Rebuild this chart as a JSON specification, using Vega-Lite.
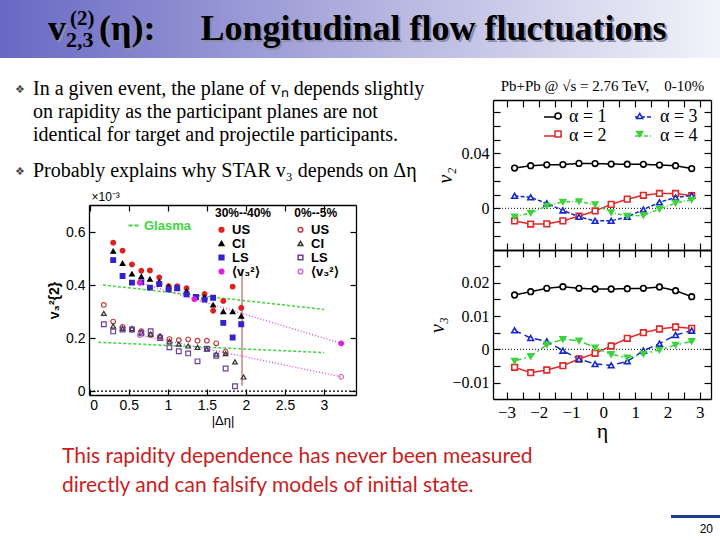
{
  "$schema": "https://vega.github.io/schema/vega-lite/v6.json",
  "width": 720,
  "height": 540,
  "autosize": {"type": "none"},
  "padding": 0,
  "background": "white",
  "config": {
    "view": {"stroke": null},
    "axis": {"grid": false, "domain": true, "domainColor": "black", "domainWidth": 1.3, "tickColor": "black", "labelColor": "black", "titleColor": "black", "tickWidth": 1.2},
    "legend": {"labelColor": "black", "titleColor": "black"}
  },
  "datasets": {
    "header": [
      {"p": "v", "t": "v"},
      {"p": "sub", "t": "2,3"},
      {"p": "sup", "t": "(2)"},
      {"p": "rest", "t": "(η):\u00a0\u00a0\u00a0\u00a0\u00a0Longitudinal flow fluctuations"}
    ],
    "bullets": [
      {"b": 1, "t": "In a given event, the plane of vₙ depends slightly\non rapidity as the participant planes are not\nidentical for target and projectile participants."},
      {"b": 2, "t": "Probably explains why STAR v₃ depends on Δη"}
    ],
    "footer": [
      {"t": "This rapidity dependence has never been measured\ndirectly and can falsify models of initial state."}
    ],
    "glasma": [
      {"m": "Glasma", "g": "30-40", "x": 0.17, "y": 0.40},
      {"m": "Glasma", "g": "30-40", "x": 3.0, "y": 0.308},
      {"m": "Glasma", "g": "0-5", "x": 0.11, "y": 0.184},
      {"m": "Glasma", "g": "0-5", "x": 3.0, "y": 0.145}
    ],
    "err": [
      {"x": 1.95, "lo": 0.02, "hi": 0.46}
    ],
    "star": [
      {"s": "US 30-40", "x": 0.30, "y": 0.56},
      {"s": "US 30-40", "x": 0.42, "y": 0.53},
      {"s": "US 30-40", "x": 0.54, "y": 0.478},
      {"s": "US 30-40", "x": 0.66, "y": 0.454},
      {"s": "US 30-40", "x": 0.77, "y": 0.455},
      {"s": "US 30-40", "x": 0.89, "y": 0.429},
      {"s": "US 30-40", "x": 1.01, "y": 0.396},
      {"s": "US 30-40", "x": 1.12, "y": 0.396},
      {"s": "US 30-40", "x": 1.24, "y": 0.388},
      {"s": "US 30-40", "x": 1.47, "y": 0.366},
      {"s": "US 30-40", "x": 1.58, "y": 0.303},
      {"s": "US 30-40", "x": 1.71, "y": 0.34},
      {"s": "US 30-40", "x": 1.83, "y": 0.394},
      {"s": "US 30-40", "x": 1.94, "y": 0.314},
      {"s": "CI 30-40", "x": 0.30, "y": 0.528},
      {"s": "CI 30-40", "x": 0.42, "y": 0.482},
      {"s": "CI 30-40", "x": 0.54, "y": 0.442},
      {"s": "CI 30-40", "x": 0.66, "y": 0.432},
      {"s": "CI 30-40", "x": 0.77, "y": 0.422},
      {"s": "CI 30-40", "x": 0.89, "y": 0.413},
      {"s": "CI 30-40", "x": 1.01, "y": 0.394},
      {"s": "CI 30-40", "x": 1.12, "y": 0.388},
      {"s": "CI 30-40", "x": 1.24, "y": 0.377},
      {"s": "CI 30-40", "x": 1.47, "y": 0.355},
      {"s": "CI 30-40", "x": 1.58, "y": 0.325},
      {"s": "CI 30-40", "x": 1.71, "y": 0.30},
      {"s": "CI 30-40", "x": 1.83, "y": 0.30},
      {"s": "CI 30-40", "x": 1.94, "y": 0.283},
      {"s": "LS 30-40", "x": 0.30, "y": 0.494},
      {"s": "LS 30-40", "x": 0.42, "y": 0.434},
      {"s": "LS 30-40", "x": 0.54, "y": 0.409},
      {"s": "LS 30-40", "x": 0.66, "y": 0.41},
      {"s": "LS 30-40", "x": 0.77, "y": 0.39},
      {"s": "LS 30-40", "x": 0.89, "y": 0.404},
      {"s": "LS 30-40", "x": 1.01, "y": 0.384},
      {"s": "LS 30-40", "x": 1.12, "y": 0.388},
      {"s": "LS 30-40", "x": 1.24, "y": 0.365},
      {"s": "LS 30-40", "x": 1.36, "y": 0.355},
      {"s": "LS 30-40", "x": 1.47, "y": 0.345},
      {"s": "LS 30-40", "x": 1.58, "y": 0.352},
      {"s": "LS 30-40", "x": 1.71, "y": 0.257},
      {"s": "LS 30-40", "x": 1.83, "y": 0.202},
      {"s": "LS 30-40", "x": 1.94, "y": 0.252},
      {"s": "v3 30-40", "x": 0.64, "y": 0.409},
      {"s": "v3 30-40", "x": 1.34, "y": 0.347},
      {"s": "v3 30-40", "x": 3.22, "y": 0.18},
      {"s": "US 0-5", "x": 0.18, "y": 0.325},
      {"s": "US 0-5", "x": 0.30, "y": 0.262},
      {"s": "US 0-5", "x": 0.42, "y": 0.242},
      {"s": "US 0-5", "x": 0.54, "y": 0.232},
      {"s": "US 0-5", "x": 0.66, "y": 0.226},
      {"s": "US 0-5", "x": 0.78, "y": 0.212},
      {"s": "US 0-5", "x": 0.90, "y": 0.205},
      {"s": "US 0-5", "x": 1.02, "y": 0.196},
      {"s": "US 0-5", "x": 1.14, "y": 0.192},
      {"s": "US 0-5", "x": 1.26, "y": 0.195},
      {"s": "US 0-5", "x": 1.38, "y": 0.19},
      {"s": "US 0-5", "x": 1.50, "y": 0.19},
      {"s": "US 0-5", "x": 1.62, "y": 0.18},
      {"s": "US 0-5", "x": 1.74, "y": 0.148},
      {"s": "CI 0-5", "x": 0.18, "y": 0.293},
      {"s": "CI 0-5", "x": 0.30, "y": 0.245},
      {"s": "CI 0-5", "x": 0.42, "y": 0.236},
      {"s": "CI 0-5", "x": 0.54, "y": 0.236},
      {"s": "CI 0-5", "x": 0.66, "y": 0.222},
      {"s": "CI 0-5", "x": 0.78, "y": 0.215},
      {"s": "CI 0-5", "x": 0.90, "y": 0.208},
      {"s": "CI 0-5", "x": 1.02, "y": 0.188},
      {"s": "CI 0-5", "x": 1.14, "y": 0.177},
      {"s": "CI 0-5", "x": 1.26, "y": 0.17},
      {"s": "CI 0-5", "x": 1.38, "y": 0.165},
      {"s": "CI 0-5", "x": 1.50, "y": 0.158},
      {"s": "CI 0-5", "x": 1.62, "y": 0.139},
      {"s": "CI 0-5", "x": 1.74, "y": 0.141},
      {"s": "CI 0-5", "x": 1.86, "y": 0.11},
      {"s": "CI 0-5", "x": 1.97, "y": 0.053},
      {"s": "LS 0-5", "x": 0.18, "y": 0.252},
      {"s": "LS 0-5", "x": 0.30, "y": 0.225},
      {"s": "LS 0-5", "x": 0.42, "y": 0.232},
      {"s": "LS 0-5", "x": 0.54, "y": 0.232},
      {"s": "LS 0-5", "x": 0.66, "y": 0.218},
      {"s": "LS 0-5", "x": 0.78, "y": 0.226},
      {"s": "LS 0-5", "x": 0.90, "y": 0.2},
      {"s": "LS 0-5", "x": 1.02, "y": 0.165},
      {"s": "LS 0-5", "x": 1.14, "y": 0.15},
      {"s": "LS 0-5", "x": 1.26, "y": 0.142},
      {"s": "LS 0-5", "x": 1.38, "y": 0.112},
      {"s": "LS 0-5", "x": 1.50, "y": 0.16},
      {"s": "LS 0-5", "x": 1.62, "y": 0.133},
      {"s": "LS 0-5", "x": 1.74, "y": 0.085},
      {"s": "LS 0-5", "x": 1.86, "y": 0.018},
      {"s": "v3 0-5", "x": 0.64, "y": 0.211},
      {"s": "v3 0-5", "x": 3.22, "y": 0.054}
    ],
    "flow": [
      {"a": "α = 1", "eta": -2.75, "v2": 0.0293, "v3": 0.0163},
      {"a": "α = 1", "eta": -2.25, "v2": 0.0310, "v3": 0.0173},
      {"a": "α = 1", "eta": -1.75, "v2": 0.0317, "v3": 0.0183},
      {"a": "α = 1", "eta": -1.25, "v2": 0.0318, "v3": 0.0188},
      {"a": "α = 1", "eta": -0.75, "v2": 0.0327, "v3": 0.0183},
      {"a": "α = 1", "eta": -0.25, "v2": 0.0326, "v3": 0.0181},
      {"a": "α = 1", "eta": 0.25, "v2": 0.0322, "v3": 0.0181},
      {"a": "α = 1", "eta": 0.75, "v2": 0.0321, "v3": 0.0182},
      {"a": "α = 1", "eta": 1.25, "v2": 0.0320, "v3": 0.0183},
      {"a": "α = 1", "eta": 1.75, "v2": 0.0315, "v3": 0.0187},
      {"a": "α = 1", "eta": 2.25, "v2": 0.0310, "v3": 0.0176},
      {"a": "α = 1", "eta": 2.75, "v2": 0.0289, "v3": 0.0158},
      {"a": "α = 2", "eta": -2.75, "v2": -0.0092, "v3": -0.0054},
      {"a": "α = 2", "eta": -2.25, "v2": -0.0114, "v3": -0.0070},
      {"a": "α = 2", "eta": -1.75, "v2": -0.0113, "v3": -0.0062},
      {"a": "α = 2", "eta": -1.25, "v2": -0.0091, "v3": -0.0049},
      {"a": "α = 2", "eta": -0.75, "v2": -0.0057, "v3": -0.0029},
      {"a": "α = 2", "eta": -0.25, "v2": -0.0019, "v3": -0.0012},
      {"a": "α = 2", "eta": 0.25, "v2": 0.0029, "v3": 0.0010},
      {"a": "α = 2", "eta": 0.75, "v2": 0.0067, "v3": 0.0033},
      {"a": "α = 2", "eta": 1.25, "v2": 0.0095, "v3": 0.0050},
      {"a": "α = 2", "eta": 1.75, "v2": 0.0108, "v3": 0.0061},
      {"a": "α = 2", "eta": 2.25, "v2": 0.0108, "v3": 0.0067},
      {"a": "α = 2", "eta": 2.75, "v2": 0.0092, "v3": 0.0063},
      {"a": "α = 3", "eta": -2.75, "v2": 0.0091, "v3": 0.0057},
      {"a": "α = 3", "eta": -2.25, "v2": 0.0080, "v3": 0.0034},
      {"a": "α = 3", "eta": -1.75, "v2": 0.0036, "v3": 0.0024},
      {"a": "α = 3", "eta": -1.25, "v2": -0.0015, "v3": -0.0004},
      {"a": "α = 3", "eta": -0.75, "v2": -0.0062, "v3": -0.0029},
      {"a": "α = 3", "eta": -0.25, "v2": -0.0091, "v3": -0.0044},
      {"a": "α = 3", "eta": 0.25, "v2": -0.0091, "v3": -0.0048},
      {"a": "α = 3", "eta": 0.75, "v2": -0.0062, "v3": -0.0036},
      {"a": "α = 3", "eta": 1.25, "v2": -0.0009, "v3": -0.0004},
      {"a": "α = 3", "eta": 1.75, "v2": 0.0044, "v3": 0.0017},
      {"a": "α = 3", "eta": 2.25, "v2": 0.0079, "v3": 0.0043},
      {"a": "α = 3", "eta": 2.75, "v2": 0.0094, "v3": 0.0056},
      {"a": "α = 4", "eta": -2.75, "v2": -0.0061, "v3": -0.0035},
      {"a": "α = 4", "eta": -2.25, "v2": -0.0034, "v3": -0.0021},
      {"a": "α = 4", "eta": -1.75, "v2": 0.0017, "v3": 0.0014},
      {"a": "α = 4", "eta": -1.25, "v2": 0.0047, "v3": 0.0030},
      {"a": "α = 4", "eta": -0.75, "v2": 0.0050, "v3": 0.0026},
      {"a": "α = 4", "eta": -0.25, "v2": 0.0028, "v3": 0.0005},
      {"a": "α = 4", "eta": 0.25, "v2": -0.0030, "v3": -0.0015},
      {"a": "α = 4", "eta": 0.75, "v2": -0.0056, "v3": -0.0025},
      {"a": "α = 4", "eta": 1.25, "v2": -0.0052, "v3": -0.0014},
      {"a": "α = 4", "eta": 1.75, "v2": -0.0005, "v3": -0.0002},
      {"a": "α = 4", "eta": 2.25, "v2": 0.0038, "v3": 0.0013},
      {"a": "α = 4", "eta": 2.75, "v2": 0.0063, "v3": 0.0024}
    ]
  },
  "layer": [
    {
      "data": {"name": "header"},
      "layer": [
        {
          "transform": [{"filter": "datum.p == 'v'"}],
          "mark": {"type": "rect", "color": {"gradient": "linear", "x1": 0, "y1": 0, "x2": 1, "y2": 0, "stops": [{"offset": 0, "color": "#6868c4"}, {"offset": 0.5, "color": "#b0b0de"}, {"offset": 1, "color": "#f3f3fa"}]}},
          "encoding": {"y": {"datum": "band", "type": "nominal", "scale": {"type": "band", "range": [0, 58], "paddingInner": 0, "paddingOuter": 0}, "axis": null}}
        },
        {
          "transform": [{"filter": "datum.p == 'v'"}],
          "mark": {"type": "text", "align": "left", "font": "Liberation Serif", "fontWeight": "bold", "fontSize": 36, "color": "#8c8cab", "baseline": "alphabetic", "dx": 2, "dy": 13},
          "encoding": {
            "x": {"datum": 0, "type": "quantitative", "scale": {"domain": [0, 1], "range": [48, 99]}, "axis": null},
            "y": {"datum": "band", "type": "nominal", "axis": null},
            "text": {"field": "t"}
          }
        },
        {
          "transform": [{"filter": "datum.p == 'rest'"}],
          "mark": {"type": "text", "align": "left", "font": "Liberation Serif", "fontWeight": "bold", "fontSize": 36, "color": "#8c8cab", "baseline": "alphabetic", "dx": 53, "dy": 13},
          "encoding": {
            "x": {"datum": 0, "type": "quantitative", "axis": null},
            "y": {"datum": "band", "type": "nominal", "axis": null},
            "text": {"field": "t"}
          }
        },
        {
          "transform": [{"filter": "datum.p == 'v'"}],
          "mark": {"type": "text", "align": "left", "font": "Liberation Serif", "fontWeight": "bold", "fontSize": 36, "color": "black", "baseline": "alphabetic", "dy": 11},
          "encoding": {
            "x": {"datum": 0, "type": "quantitative", "axis": null},
            "y": {"datum": "band", "type": "nominal", "axis": null},
            "text": {"field": "t"}
          }
        },
        {
          "transform": [{"filter": "datum.p == 'rest'"}],
          "mark": {"type": "text", "align": "left", "font": "Liberation Serif", "fontWeight": "bold", "fontSize": 36, "color": "black", "baseline": "alphabetic", "dx": 51, "dy": 11},
          "encoding": {
            "x": {"datum": 0, "type": "quantitative", "axis": null},
            "y": {"datum": "band", "type": "nominal", "axis": null},
            "text": {"field": "t"}
          }
        },
        {
          "transform": [{"filter": "datum.p == 'sub'"}],
          "mark": {"type": "text", "align": "left", "font": "Liberation Serif", "fontWeight": "bold", "fontSize": 22, "color": "black", "baseline": "alphabetic", "dx": 18, "dy": 18},
          "encoding": {
            "x": {"datum": 0, "type": "quantitative", "axis": null},
            "y": {"datum": "band", "type": "nominal", "axis": null},
            "text": {"field": "t"}
          }
        },
        {
          "transform": [{"filter": "datum.p == 'sup'"}],
          "mark": {"type": "text", "align": "left", "font": "Liberation Serif", "fontWeight": "bold", "fontSize": 21, "color": "black", "baseline": "alphabetic", "dx": 22, "dy": -4},
          "encoding": {
            "x": {"datum": 0, "type": "quantitative", "axis": null},
            "y": {"datum": "band", "type": "nominal", "axis": null},
            "text": {"field": "t"}
          }
        }
      ]
    },
    {
      "data": {"name": "bullets"},
      "layer": [
        {
          "mark": {"type": "text", "align": "left", "baseline": "alphabetic", "font": "DejaVu Sans", "fontSize": 11, "dx": -18, "dy": -2, "color": "#444"},
          "encoding": {
            "x": {"datum": 0, "type": "quantitative", "scale": {"domain": [0, 1], "range": [33, 433]}, "axis": null},
            "y": {"field": "b", "type": "ordinal", "scale": {"type": "point", "range": [95, 177], "padding": 0}, "axis": null},
            "text": {"value": "❖"}
          }
        },
        {
          "mark": {"type": "text", "align": "left", "baseline": "alphabetic", "font": "Liberation Serif", "fontSize": 20, "lineBreak": "\n", "lineHeight": 22.8, "color": "black"},
          "encoding": {
            "x": {"datum": 0, "type": "quantitative", "axis": null},
            "y": {"field": "b", "type": "ordinal", "axis": null},
            "text": {"field": "t"}
          }
        }
      ]
    },
    {
      "layer": [
        {
          "data": {"values": [{}]},
          "mark": {"type": "rule", "strokeDash": [2, 2], "color": "black", "strokeWidth": 1.2},
          "encoding": {
            "x": {"datum": -0.01, "type": "quantitative", "scale": {"domain": [-0.01, 3.41], "range": [89, 356], "nice": false, "zero": false}, "axis": null},
            "x2": {"datum": 3.41},
            "y": {"datum": 0, "type": "quantitative", "scale": {"domain": [-0.015, 0.702], "range": [395, 205], "nice": false, "zero": false}, "axis": null}
          }
        },
        {
          "data": {"name": "glasma"},
          "mark": {"type": "line", "strokeDash": [3, 2], "strokeWidth": 1.5},
          "encoding": {
            "x": {"field": "x", "type": "quantitative", "axis": {"orient": "top", "offset": -205, "values": [0, 0.5, 1, 1.5, 2, 2.5, 3], "labels": false, "tickSize": -6, "title": "×10⁻³", "titleAnchor": "start", "titleAngle": 0, "titleAlign": "left", "titleBaseline": "bottom", "titleX": 91, "titleY": -2, "titleFont": "Liberation Sans", "titleFontSize": 12, "titleFontWeight": "normal"}},
            "y": {"field": "y", "type": "quantitative", "axis": {"orient": "right", "offset": -364, "values": [0, 0.2, 0.4, 0.6], "labels": false, "tickSize": -6, "title": null}},
            "color": {"field": "m", "type": "nominal", "scale": {"range": ["#3ed63e"]}, "legend": {"orient": "none", "legendX": 127, "legendY": 219, "title": null, "labelColor": "#3ed63e", "labelFont": "Liberation Sans", "labelFontWeight": "bold", "labelFontSize": 13, "symbolType": "stroke", "symbolStrokeWidth": 2, "symbolSize": 100, "symbolDash": [4, 2]}},
            "detail": {"field": "g"}
          }
        },
        {
          "data": {"name": "star"},
          "transform": [{"filter": "slice(datum.s, 0, 2) == 'v3'"}],
          "mark": {"type": "line", "strokeDash": [1, 2], "color": "#e040e0", "strokeWidth": 1.3},
          "encoding": {
            "x": {"field": "x", "type": "quantitative", "axis": null},
            "y": {"field": "y", "type": "quantitative", "axis": null},
            "detail": {"field": "s"}
          }
        },
        {
          "data": {"name": "err"},
          "mark": {"type": "rule", "color": "#b04848", "strokeWidth": 1},
          "encoding": {
            "x": {"field": "x", "type": "quantitative", "axis": null},
            "y": {"field": "lo", "type": "quantitative", "axis": null},
            "y2": {"field": "hi"}
          }
        },
        {
          "data": {"name": "star"},
          "mark": {"type": "point", "filled": false, "strokeWidth": 1.2, "opacity": 1},
          "encoding": {
            "x": {"field": "x", "type": "quantitative", "axis": {"orient": "bottom", "offset": -145, "values": [0, 0.5, 1, 1.5, 2, 2.5, 3], "format": "~g", "tickSize": -6, "labelPadding": 9, "labelFont": "Liberation Sans", "labelFontSize": 14, "title": "|Δη|", "titleFont": "Liberation Sans", "titleFontSize": 13, "titleFontWeight": "normal", "titlePadding": 2}},
            "y": {"field": "y", "type": "quantitative", "axis": {"orient": "left", "offset": -89, "values": [0, 0.2, 0.4, 0.6], "format": "~g", "tickSize": -6, "labelPadding": 10, "labelFont": "Liberation Sans", "labelFontSize": 14, "title": "v₃²{2}", "titleFont": "Liberation Sans", "titleFontSize": 14, "titleFontWeight": "bold", "titlePadding": 4}},
            "shape": {"field": "s", "type": "nominal", "scale": {"domain": ["US 30-40", "US 0-5", "CI 30-40", "CI 0-5", "LS 30-40", "LS 0-5", "v3 30-40", "v3 0-5"], "range": ["circle", "circle", "triangle-up", "triangle-up", "square", "square", "circle", "circle"]}, "legend": {"orient": "none", "legendX": 215, "legendY": 208, "columns": 2, "direction": "horizontal", "title": "30%--40%\u00a0\u00a0\u00a0\u00a0\u00a0\u00a0\u00a00%--5%", "titleFont": "Liberation Sans", "titleFontSize": 12, "titleFontWeight": "bold", "titlePadding": 3, "labelFont": "Liberation Sans", "labelFontSize": 13, "labelFontWeight": "bold", "labelExpr": "slice(datum.label, 0, 2) == 'v3' ? '⟨v₃²⟩' : slice(datum.label, 0, 2)", "columnPadding": 34, "rowPadding": 0, "gridAlign": "all"}},
            "stroke": {"field": "s", "type": "nominal", "scale": {"domain": ["US 30-40", "US 0-5", "CI 30-40", "CI 0-5", "LS 30-40", "LS 0-5", "v3 30-40", "v3 0-5"], "range": ["#e02020", "#c04040", "#000000", "#333333", "#3322cc", "#6a3ea0", "#e020e0", "#d070d0"]}},
            "fill": {"field": "s", "type": "nominal", "scale": {"domain": ["US 30-40", "US 0-5", "CI 30-40", "CI 0-5", "LS 30-40", "LS 0-5", "v3 30-40", "v3 0-5"], "range": ["#e02020", "transparent", "#000000", "transparent", "#3322cc", "transparent", "#e020e0", "transparent"]}},
            "size": {"field": "s", "type": "nominal", "scale": {"domain": ["US 30-40", "US 0-5", "CI 30-40", "CI 0-5", "LS 30-40", "LS 0-5", "v3 30-40", "v3 0-5"], "range": [22, 22, 22, 22, 24, 24, 110, 110]}}
          }
        }
      ],
      "resolve": {"axis": {"x": "independent", "y": "independent"}}
    },
    {
      "data": {"name": "flow"},
      "layer": [
        {
          "data": {"values": [{}]},
          "mark": {"type": "rule", "strokeDash": [1, 2], "color": "black"},
          "encoding": {
            "x": {"datum": -3.42, "type": "quantitative", "scale": {"domain": [-3.42, 3.35], "range": [493, 711], "nice": false, "zero": false}, "axis": null},
            "x2": {"datum": 3.35},
            "y": {"datum": 0, "type": "quantitative", "scale": {"domain": [-0.0303, 0.0788], "range": [250, 100], "nice": false, "zero": false}, "axis": null}
          }
        },
        {
          "mark": {"type": "line", "strokeWidth": 1.5},
          "encoding": {
            "x": {"field": "eta", "type": "quantitative", "axis": {"orient": "bottom", "offset": -290, "values": [-3, -2.5, -2, -1.5, -1, -0.5, 0, 0.5, 1, 1.5, 2, 2.5, 3], "labels": false, "tickSize": -7, "title": null}},
            "y": {"field": "v2", "type": "quantitative", "axis": {"orient": "left", "offset": -493, "values": [-0.03, -0.02, -0.01, 0, 0.01, 0.02, 0.03, 0.04, 0.05, 0.06, 0.07], "labelExpr": "(abs(datum.value) < 1e-9 || abs(datum.value - 0.04) < 1e-9) ? format(datum.value, '.2~f') : ''", "tickSize": -7, "labelPadding": 11, "labelFont": "Liberation Serif", "labelFontSize": 16, "title": "v₂", "titleFont": "Liberation Serif", "titleFontSize": 20, "titleFontStyle": "italic", "titleFontWeight": "normal", "titlePadding": 6}},
            "color": {"field": "a", "type": "nominal", "scale": {"domain": ["α = 1", "α = 3", "α = 2", "α = 4"], "range": ["#000000", "#1428c8", "#e02828", "#3cd23c"]}, "legend": {"orient": "none", "legendX": 543, "legendY": 107, "columns": 2, "direction": "horizontal", "title": null, "labelFont": "Liberation Serif", "labelFontSize": 18, "labelOffset": 6, "columnPadding": 25, "rowPadding": 0, "symbolType": "stroke", "symbolSize": 324, "symbolStrokeWidth": 1.5}},
            "strokeDash": {"field": "a", "type": "nominal", "scale": {"domain": ["α = 1", "α = 3", "α = 2", "α = 4"], "range": [[1, 0], [4, 2], [1, 0], [4, 2, 1, 2]]}}
          }
        },
        {
          "mark": {"type": "point", "filled": false, "strokeWidth": 1.6, "size": 32, "opacity": 1},
          "encoding": {
            "x": {"field": "eta", "type": "quantitative", "axis": {"orient": "top", "offset": -100, "values": [-3, -2.5, -2, -1.5, -1, -0.5, 0, 0.5, 1, 1.5, 2, 2.5, 3], "labels": false, "tickSize": -7, "title": "Pb+Pb @ √s = 2.76 TeV,\u00a0\u00a0\u00a0\u00a00-10%", "titleFont": "Liberation Serif", "titleFontSize": 15, "titleFontWeight": "normal", "titlePadding": 6}},
            "y": {"field": "v2", "type": "quantitative", "axis": {"orient": "right", "offset": -9, "values": [-0.03, -0.02, -0.01, 0, 0.01, 0.02, 0.03, 0.04, 0.05, 0.06, 0.07], "labels": false, "tickSize": -7, "title": null}},
            "color": {"field": "a", "type": "nominal", "legend": {"orient": "none", "legendX": 549, "legendY": 107, "columns": 2, "direction": "horizontal", "title": null, "labelFont": "Liberation Serif", "labelFontSize": 18, "labelOffset": 6, "labelOpacity": 0, "columnPadding": 19.7, "rowPadding": 0, "symbolSize": 36, "symbolStrokeWidth": 1.5}},
            "shape": {"field": "a", "type": "nominal", "scale": {"domain": ["α = 1", "α = 3", "α = 2", "α = 4"], "range": ["circle", "triangle-up", "square", "triangle-down"]}},
            "fill": {"field": "a", "type": "nominal", "scale": {"domain": ["α = 1", "α = 3", "α = 2", "α = 4"], "range": ["#ffffff", "#ffffff", "#ffffff", "#3cd23c"]}}
          }
        }
      ],
      "resolve": {
        "axis": {"x": "independent", "y": "independent"},
        "legend": {"color": "independent", "strokeDash": "independent", "shape": "independent", "fill": "independent"}
      }
    },
    {
      "data": {"name": "flow"},
      "layer": [
        {
          "data": {"values": [{}]},
          "mark": {"type": "rule", "strokeDash": [1, 2], "color": "black"},
          "encoding": {
            "x": {"datum": -3.42, "type": "quantitative", "scale": {"domain": [-3.42, 3.35], "range": [493, 711], "nice": false, "zero": false}, "axis": null},
            "x2": {"datum": 3.35},
            "y": {"datum": 0, "type": "quantitative", "scale": {"domain": [-0.0149, 0.0298], "range": [399, 250], "nice": false, "zero": false}, "axis": null}
          }
        },
        {
          "mark": {"type": "line", "strokeWidth": 1.5},
          "encoding": {
            "x": {"field": "eta", "type": "quantitative", "axis": {"orient": "bottom", "offset": -141, "values": [-3, -2.5, -2, -1.5, -1, -0.5, 0, 0.5, 1, 1.5, 2, 2.5, 3], "labelExpr": "datum.value % 1 == 0 ? format(datum.value, 'd') : ''", "tickSize": -7, "labelPadding": 12, "labelFont": "Liberation Serif", "labelFontSize": 17, "title": "η", "titleFont": "Liberation Serif", "titleFontSize": 22, "titleFontWeight": "normal", "titlePadding": 0}},
            "y": {"field": "v3", "type": "quantitative", "axis": {"orient": "left", "offset": -493, "values": [-0.01, -0.005, 0, 0.005, 0.01, 0.015, 0.02, 0.025], "labelExpr": "abs(datum.value * 100 - round(datum.value * 100)) < 0.001 ? format(datum.value, '.2~f') : ''", "tickSize": -7, "labelPadding": 11, "labelFont": "Liberation Serif", "labelFontSize": 16, "title": "v₃", "titleFont": "Liberation Serif", "titleFontSize": 20, "titleFontStyle": "italic", "titleFontWeight": "normal", "titlePadding": 4}},
            "color": {"field": "a", "type": "nominal", "scale": {"domain": ["α = 1", "α = 3", "α = 2", "α = 4"], "range": ["#000000", "#1428c8", "#e02828", "#3cd23c"]}, "legend": null},
            "strokeDash": {"field": "a", "type": "nominal", "scale": {"domain": ["α = 1", "α = 3", "α = 2", "α = 4"], "range": [[1, 0], [7, 4], [1, 0], [7, 3, 2, 3]]}, "legend": null}
          }
        },
        {
          "mark": {"type": "point", "filled": false, "strokeWidth": 1.6, "size": 32, "opacity": 1},
          "encoding": {
            "x": {"field": "eta", "type": "quantitative", "axis": {"orient": "top", "offset": -250, "values": [-3, -2.5, -2, -1.5, -1, -0.5, 0, 0.5, 1, 1.5, 2, 2.5, 3], "labels": false, "tickSize": -7, "title": null}},
            "y": {"field": "v3", "type": "quantitative", "axis": {"orient": "right", "offset": -9, "values": [-0.01, -0.005, 0, 0.005, 0.01, 0.015, 0.02, 0.025], "labels": false, "tickSize": -7, "title": null}},
            "color": {"field": "a", "type": "nominal", "legend": null},
            "shape": {"field": "a", "type": "nominal", "scale": {"domain": ["α = 1", "α = 3", "α = 2", "α = 4"], "range": ["circle", "triangle-up", "square", "triangle-down"]}, "legend": null},
            "fill": {"field": "a", "type": "nominal", "scale": {"domain": ["α = 1", "α = 3", "α = 2", "α = 4"], "range": ["#ffffff", "#ffffff", "#ffffff", "#3cd23c"]}, "legend": null}
          }
        }
      ],
      "resolve": {"axis": {"x": "independent", "y": "independent"}}
    },
    {
      "data": {"name": "footer"},
      "mark": {"type": "text", "align": "left", "baseline": "alphabetic", "font": "Lato", "fontSize": 21, "color": "#c81e1e", "lineBreak": "\n", "lineHeight": 29},
      "encoding": {
        "x": {"datum": 0, "type": "quantitative", "scale": {"domain": [0, 1], "range": [62, 534]}, "axis": null},
        "y": {"datum": 0, "type": "quantitative", "scale": {"domain": [0, 1], "range": [463, 492]}, "axis": null},
        "text": {"field": "t"}
      }
    },
    {
      "data": {"values": [{"n": "20"}]},
      "layer": [
        {
          "mark": {"type": "rect", "color": "#1f3c88"},
          "encoding": {
            "x": {"datum": 0, "type": "quantitative", "scale": {"domain": [0, 1], "range": [671, 720]}, "axis": null},
            "x2": {"datum": 1},
            "y": {"datum": 0, "type": "quantitative", "scale": {"domain": [0, 1], "range": [515, 518]}, "axis": null},
            "y2": {"datum": 1}
          }
        },
        {
          "mark": {"type": "text", "align": "right", "baseline": "alphabetic", "font": "Liberation Sans", "fontSize": 12, "color": "black", "dx": -7, "dy": 15},
          "encoding": {
            "x": {"datum": 1, "type": "quantitative", "axis": null},
            "y": {"datum": 1, "type": "quantitative", "axis": null},
            "text": {"field": "n"}
          }
        }
      ]
    }
  ],
  "resolve": {
    "scale": {"x": "independent", "y": "independent", "color": "independent", "shape": "independent", "fill": "independent", "stroke": "independent", "size": "independent", "strokeDash": "independent"},
    "axis": {"x": "independent", "y": "independent"}
  }
}
